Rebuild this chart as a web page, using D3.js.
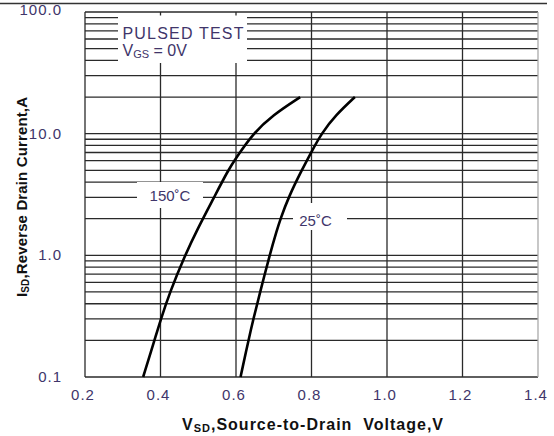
<!DOCTYPE html>
<html>
<head>
<meta charset="utf-8">
<script src="https://cdn.jsdelivr.net/npm/d3@7"></script>
<style>
  html, body { margin: 0; padding: 0; background: #fff; }
  svg { display: block; }
  text { font-family: "Liberation Sans", Arial, sans-serif; }
</style>
</head>
<body>
<svg id="chart" width="554" height="436"></svg>
<script>
// ---- data ----
const xTicks = [0.2, 0.4, 0.6, 0.8, 1.0, 1.2, 1.4];
const xTickLabels = ["0.2", "0.4", "0.6", "0.8", "1.0", "1.2", "1.4"];
const yTicks = [0.1, 1, 10, 100];
const yTickLabels = ["0.1", "1.0", "10.0", "100.0"];
const yMinorGrid = [0.1,0.2,0.3,0.4,0.5,0.6,0.7,0.8,0.9,1,2,3,4,5,6,7,8,9,10,20,30,40,50,60,70,80,90,100];

const current150 = [0.1, 0.2, 0.3, 0.5, 1.0, 1.6, 3.0, 5.0, 6.3, 10, 14.2, 20];
const v150 = [0.354, 0.384, 0.401, 0.425, 0.465, 0.496, 0.542, 0.579, 0.600, 0.645, 0.697, 0.770];
const current25 = [0.1, 0.2, 0.3, 0.5, 1.0, 1.6, 2.0, 3.0, 5.0, 7.1, 10, 14.2, 20];
const v25 = [0.612, 0.633, 0.646, 0.664, 0.689, 0.708, 0.718, 0.739, 0.774, 0.800, 0.826, 0.864, 0.915];

// ---- layout ----
const svg = d3.select("#chart");
const x = d3.scaleLinear().domain([0.2, 1.4]).range([85, 538]);
const y = d3.scaleLog().domain([0.1, 100]).range([377, 12]);
const gridColor = "#2a2a2a";
const textColor = "#40356a";

// top frame line
svg.append("line").attr("x1", 0).attr("x2", 547).attr("y1", 3.5).attr("y2", 3.5)
  .attr("stroke", "#333").attr("stroke-width", 1.5);

// horizontal grid
svg.append("g").selectAll("line").data(yMinorGrid).join("line")
  .attr("x1", x(0.2)).attr("x2", x(1.4))
  .attr("y1", d => y(d)).attr("y2", d => y(d))
  .attr("stroke", gridColor).attr("stroke-width", 1.3);

// vertical grid
svg.append("g").selectAll("line").data(xTicks).join("line")
  .attr("x1", d => x(d)).attr("x2", d => x(d))
  .attr("y1", y(100)).attr("y2", y(0.1))
  .attr("stroke", (d, i) => i === xTicks.length - 1 ? "#aaa" : gridColor)
  .attr("stroke-width", 1.3);

// white label boxes breaking the grid
const boxes = [
  {x0: 118, x1: 247, y0: 15.5, y1: 63},
  {x0: 137, x1: 203, y0: 182, y1: 208},
  {x0: 293, x1: 347, y0: 203, y1: 230}
];
svg.append("g").selectAll("rect").data(boxes).join("rect")
  .attr("x", d => d.x0).attr("y", d => d.y0)
  .attr("width", d => d.x1 - d.x0).attr("height", d => d.y1 - d.y0)
  .attr("fill", "#fff");

// curves
const line = d3.line().x(d => x(d[0])).y(d => y(d[1])).curve(d3.curveBasis);
svg.append("path").datum(v150.map((v, i) => [v, current150[i]]))
  .attr("d", line).attr("fill", "none").attr("stroke", "#000").attr("stroke-width", 2.6);
svg.append("path").datum(v25.map((v, i) => [v, current25[i]]))
  .attr("d", line).attr("fill", "none").attr("stroke", "#000").attr("stroke-width", 2.6);

// tick labels
svg.append("g").selectAll("text").data(xTicks).join("text")
  .attr("x", d => x(d) - 2).attr("y", 400)
  .attr("text-anchor", "middle").attr("font-size", 15).attr("letter-spacing", 1)
  .attr("fill", textColor).text((d, i) => xTickLabels[i]);
svg.append("g").selectAll("text").data(yTicks).join("text")
  .attr("x", 62).attr("y", d => y(d) + 5 - (d === 100 ? 2 : 0))
  .attr("text-anchor", "end").attr("font-size", 15).attr("letter-spacing", 1)
  .attr("fill", textColor).text((d, i) => yTickLabels[i]);

// annotation texts
svg.append("text").attr("x", 122.5).attr("y", 38.5).attr("font-size", 16)
  .attr("textLength", 121).attr("lengthAdjust", "spacing")
  .attr("fill", textColor).text("PULSED TEST");
const vgs = svg.append("text").attr("x", 122.5).attr("y", 55.5).attr("font-size", 16).attr("fill", textColor);
vgs.append("tspan").text("V");
vgs.append("tspan").attr("font-size", 11).attr("dy", 2).text("GS");
vgs.append("tspan").attr("dy", -2).text(" = 0V");

svg.append("text").attr("x", 170).attr("y", 200.5).attr("text-anchor", "middle")
  .attr("font-size", 15).attr("fill", textColor).text("150\u02DAC");
svg.append("text").attr("x", 315.5).attr("y", 226).attr("text-anchor", "middle")
  .attr("font-size", 15).attr("fill", textColor).text("25\u02DAC");

// axis titles
const xt = svg.append("text").attr("x", 312.5).attr("y", 430).attr("text-anchor", "middle")
  .attr("font-size", 16).attr("font-weight", "bold").attr("fill", "#111")
  .attr("textLength", 261).attr("lengthAdjust", "spacing");
xt.append("tspan").text("V");
xt.append("tspan").attr("font-size", 11).attr("dy", 2).text("SD");
xt.append("tspan").attr("dy", -2).text(",Source-to-Drain\u00A0 Voltage,V");

const yt = svg.append("text").attr("transform", "translate(27,197) rotate(-90)")
  .attr("text-anchor", "middle").attr("font-size", 15).attr("font-weight", "bold").attr("fill", "#111")
  .attr("textLength", 200).attr("lengthAdjust", "spacing");
yt.append("tspan").text("I");
yt.append("tspan").attr("font-size", 10).attr("dy", 2).text("SD");
yt.append("tspan").attr("dy", -2).text(",Reverse Drain Current,A");
</script>
</body>
</html>
